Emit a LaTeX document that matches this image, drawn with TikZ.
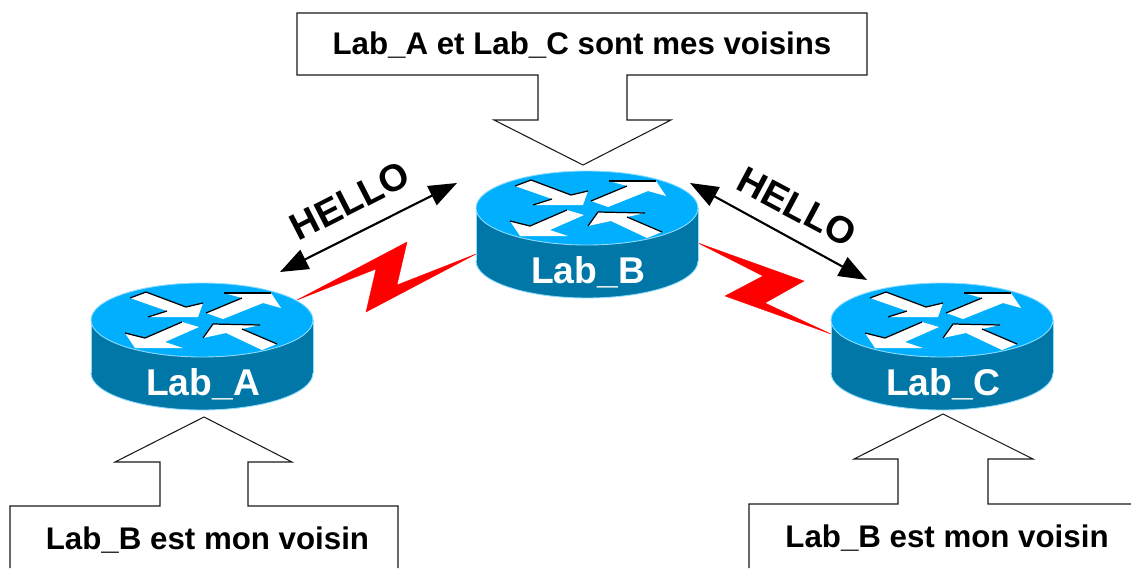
\documentclass[tikz,border=0pt]{standalone}
\usepackage{fontspec}
\setmainfont{Liberation Sans}
\usepackage{xcolor}
\usetikzlibrary{arrows.meta}
\definecolor{routertop}{HTML}{00B0FF}
\definecolor{routerbody}{HTML}{0077A6}
\definecolor{routerrim}{HTML}{8FDCFF}
\newcommand{\boxfont}{\fontsize{17.8}{20}\bfseries\selectfont}
\newcommand{\bigfont}{\fontsize{21.2}{24}\bfseries\selectfont}
\newcommand{\hellofont}{\fontsize{21.5}{24}\bfseries\selectfont}
\tikzset{
  rim/.style={line width=0.5pt, draw=routerrim},
  edge/.style={line width=0.7pt, black},
  pics/router/.style={code={
    \draw [rim, fill=routerbody] (0,53) ellipse [x radius=111, y radius=37];
    \fill [routerbody] (-111,0) rectangle (111,53);
    \draw [rim] (-111,0) -- (-111,53);
    \draw [rim] (111,0) -- (111,53);
    \draw [rim, fill=routertop] (0,0) ellipse [x radius=111, y radius=37];
    \fill [white] (-72,-22) -- (-56,-28) -- (-16,-13) -- (1,-17) -- (-4,-3) -- (-54,-3) -- (-35,-9) -- cycle;
    \draw [edge] (-72,-22) -- (-56,-28) -- (-16,-13) -- (1,-17);
    \draw [edge] (-54,-3) -- (-35,-9);
    \fill [white] (4,-7) -- (40,-22) -- (22,-27) -- (69,-27) -- (79,-12) -- (61,-17) -- (21,-1) -- cycle;
    \draw [edge] (4,-7) -- (40,-22);
    \draw [edge] (22,-27) -- (69,-27);
    \fill [white] (-77,13) -- (-57,18) -- (-20,2) -- (-3,7) -- (-37,22) -- (-19,28) -- (-67,28) -- cycle;
    \draw [edge] (-77,13) -- (-57,18) -- (-20,2);
    \fill [white] (1,18) -- (11,4) -- (58,5) -- (40,9) -- (75,24) -- (60,30) -- (24,13) -- cycle;
    \draw [edge] (1,18) -- (11,4) -- (58,5);
    \draw [edge] (40,9) -- (75,24);
    \node [white, font=\bigfont] (-lab) at (1,64) {#1};
  }}
}
\begin{document}
\begin{tikzpicture}[x=0.02cm, y=-0.02cm,
    callout/.style={line width=0.6pt, black!90},
    hello/.style={line width=1.2pt, {Triangle[length=16pt, width=12pt]}-{Triangle[length=16pt, width=12pt]}},
    zap/.style={red, draw=red, line width=0.2pt}]
  \useasboundingbox (0,0) rectangle (1131,568);

  \fill [zap] (297,300) -- (407,242) -- (397,285) -- (476,254) -- (366,312) -- (376,269) -- cycle;
  \fill [zap] (698,243) -- (804,281) -- (765,303) -- (831,334) -- (725,296) -- (763,276) -- cycle;

  \pic (laba) at (202,320) {router={Lab\_A}};
  \pic (labb) at (587,208) {router={Lab\_B}};
  \pic (labc) at (942,320) {router={Lab\_C}};

  \coordinate (h1) at (280,272);
  \coordinate (h2) at (457,183);
  \coordinate (h3) at (690,183);
  \coordinate (h4) at (867,280);
  \draw [hello] (h1) -- (h2);
  \draw [hello] (h3) -- (h4);
  \node [font=\hellofont, rotate=27, inner sep=0pt] (hellol) at (350,201) {HELLO};
  \node [font=\hellofont, rotate=-28, inner sep=0pt] (hellor) at (797,207) {HELLO};

  \draw [callout] (538,75) -- (297,75) -- (297,13) -- (867,13) -- (867,75) -- (627,75) -- (627,120) -- (671,120) -- (583,165) -- (494,120) -- (538,120) -- cycle;
  \draw [callout] (10,568) -- (10,506) -- (160,506) -- (160,462) -- (115,462) -- (204,417) -- (292,462) -- (248,462) -- (248,506) -- (398,506) -- (398,568);
  \draw [callout] (749,568) -- (749,504) -- (898,504) -- (898,459) -- (854,459) -- (943,414) -- (1033,459) -- (988,459) -- (988,504) -- (1131,504);

  \node [font=\boxfont] (msgb) at (582,45) {Lab\_A et Lab\_C sont mes voisins};
  \node [font=\boxfont] (msga) at (207.5,540) {Lab\_B est mon voisin};
  \node [font=\boxfont] (msgc) at (947,538) {Lab\_B est mon voisin};
\end{tikzpicture}
\end{document}
